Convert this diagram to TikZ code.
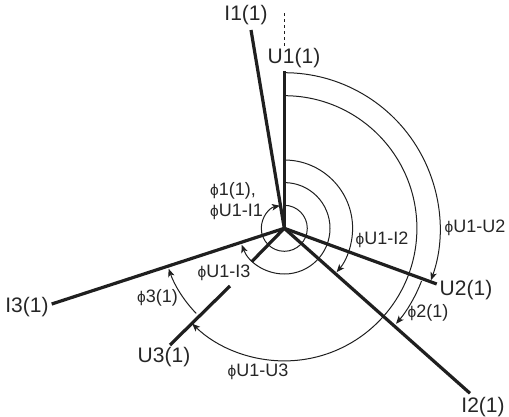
\documentclass[tikz,border=0pt]{standalone}
\usepackage{fontspec}
\setmainfont{Liberation Sans}
\usetikzlibrary{arrows.meta, calc}
\newcommand{\phs}{{\fontsize{15.5}{15.5}\selectfont\char"03D5}}

\begin{document}
\begin{tikzpicture}[
    x=1pt, y=1pt,
    vector/.style={line width=3.2pt, draw=black!88},
    phase/.style={line width=1pt, draw=black!88, -{Stealth[length=8pt,width=6.5pt,inset=2pt]}},
    big/.style={inner sep=0pt, text=black!85, font=\fontsize{21}{21}\selectfont},
    small/.style={inner sep=0pt, text=black!85, font=\fontsize{18}{20}\selectfont, align=left}]

    \useasboundingbox (0,0) rectangle (509,416);
    \coordinate (origin) at (284.3,187.7);

    % vector ends
    \coordinate (u1end) at (284.3,345.3);
    \coordinate (u2end) at (436.7,132);
    \coordinate (u3end) at (170,71);
    \coordinate (u3start) at (230,130);
    \coordinate (u3stub) at (251.7,154.3);
    \coordinate (i1end) at (251,386);
    \coordinate (i2end) at (470,22.7);
    \coordinate (i3end) at (51.7,112);
    \coordinate (ref1) at (284.3,370);
    \coordinate (ref2) at (284.3,406);

    \draw[vector] (origin) -- (u1end);
    \draw[vector] (origin) -- (u2end);
    \draw[vector] (u3start) -- (u3end);
    \draw[vector] (origin) -- (u3stub);
    \draw[vector] (origin) -- (i1end);
    \draw[vector] (origin) -- (i2end);
    \draw[vector] (origin) -- (i3end);
    \draw[line width=0.6pt, dashed, black!88] (ref1) -- (ref2);

    % phase arcs
    \draw[phase] (origin) ++(90:23) arc[start angle=90, end angle=-259, radius=23];
    \draw[phase] (origin) ++(90:45.7) arc[start angle=90, end angle=-159, radius=45.7];
    \draw[phase] (origin) ++(90:68.3) arc[start angle=90, end angle=-40, radius=68.3];
    \draw[phase] (origin) ++(90:132.6) arc[start angle=90, end angle=-134, radius=132.6];
    \draw[phase] (origin) ++(90:155.6) arc[start angle=90, end angle=-19.5, radius=155.6];
    \draw[phase] (origin) ++(-21:147) arc[start angle=-21, end angle=-40.5, radius=147];
    \draw[phase] (origin) ++(224:122.5) arc[start angle=224, end angle=199.3, radius=122.5];

    \node[big] (i1) at (246,401) {I1(1)};
    \node[big] (u1) at (294,358) {U1(1)};
    \node[big] (u2) at (466,126) {U2(1)};
    \node[big] (u3) at (164,59.3) {U3(1)};
    \node[big] (i2) at (483,9.3) {I2(1)};
    \node[big] (i3) at (27,109.3) {I3(1)};

    \node[small, anchor=west] (phi1) at (210,215) {\phs1(1),\\[1pt]\phs U1-I1};
    \node[small] (phii3) at (224,142.7) {\phs U1-I3};
    \node[small] (phii2) at (382,176) {\phs U1-I2};
    \node[small] (phiu2) at (475,187.7) {\phs U1-U2};
    \node[small] (phiu3) at (258,44.3) {\phs U1-U3};
    \node[small] (phi2) at (428,102.7) {\phs2(1)};
    \node[small] (phi3) at (157.5,117.7) {\phs3(1)};
\end{tikzpicture}
\end{document}
